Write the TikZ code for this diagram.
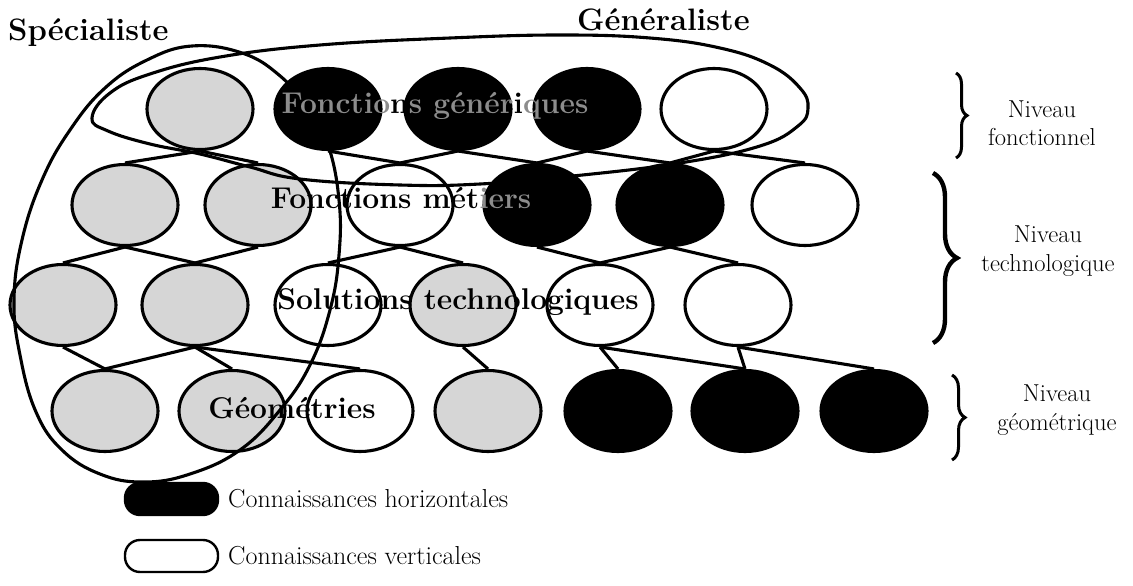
\documentclass[tikz,border=0pt]{standalone}
\usepackage{fontspec}
\usetikzlibrary{shapes.geometric,decorations.pathreplacing}
\begin{document}
\begin{tikzpicture}[x=1pt,y=-1pt,
  lw/.style={line width=3.1pt},
  kn/.style={ellipse, draw, line width=3.1pt, minimum width=106pt, minimum height=81pt, inner sep=0pt},
  gk/.style={kn, fill=black!16},
  bk/.style={kn, fill=black},
  wk/.style={kn, fill=white},
  conn/.style={line width=3.1pt},
  lvl/.style={font=\fontsize{30}{31}\selectfont\bfseries, inner sep=0pt},
  ttl/.style={font=\fontsize{31}{32}\selectfont\bfseries, inner sep=0pt},
  lab/.style={font=\fontsize{24.5}{28.5}\selectfont, align=center, inner sep=0pt},
  leg/.style={font=\fontsize{26}{30}\selectfont, inner sep=0pt, anchor=west},
  brc/.style={decorate, line width=3pt},
  pill/.style={draw, line width=2.4pt, rounded corners=15pt, minimum width=93pt, minimum height=32pt, inner sep=0pt}
]
\useasboundingbox (0,0) rectangle (1133,586);
\colorlet{onblack}{black!45}

% row 1
\node[gk] (g1) at (200,109) {};
\node[bk] (b1a) at (328,109) {};
\node[bk] (b1b) at (458,109) {};
\node[bk] (b1c) at (587,109) {};
\node[wk] (w1) at (714,109) {};
% row 2
\node[gk] (r2a) at (125,205) {};
\node[gk] (r2b) at (258,205) {};
\node[wk] (r2c) at (400,205) {};
\node[bk] (r2d) at (537,205) {};
\node[bk] (r2e) at (670,205) {};
\node[wk] (r2f) at (805,205) {};
% row 3
\node[gk] (r3a) at (63,305) {};
\node[gk] (r3b) at (195,305) {};
\node[wk] (r3c) at (328,305) {};
\node[gk] (r3d) at (463,305) {};
\node[wk] (r3e) at (600,305) {};
\node[wk] (r3f) at (738,305) {};
% row 4
\node[gk] (r4a) at (105,411) {};
\node[gk] (r4b) at (232,411) {};
\node[wk] (r4c) at (360,411) {};
\node[gk] (r4d) at (488,411) {};
\node[bk] (r4e) at (618,411) {};
\node[bk] (r4f) at (745,411) {};
\node[bk] (r4g) at (874,411) {};

% connectors row1-row2
\draw[conn] (g1.south) -- (r2a.north);
\draw[conn] (g1.south) -- (r2b.north);
\draw[conn] (b1a.south) -- (r2c.north);
\draw[conn] (b1b.south) -- (r2c.north);
\draw[conn] (b1b.south) -- (r2d.north);
\draw[conn] (b1c.south) -- (r2d.north);
\draw[conn] (b1c.south) -- (r2e.north);
\draw[conn] (w1.south) -- (r2e.north);
\draw[conn] (w1.south) -- (r2f.north);
% row2-row3
\draw[conn] (r2a.south) -- (r3a.north);
\draw[conn] (r2a.south) -- (r3b.north);
\draw[conn] (r2b.south) -- (r3b.north);
\draw[conn] (r2c.south) -- (r3c.north);
\draw[conn] (r2c.south) -- (r3d.north);
\draw[conn] (r2d.south) -- (r3e.north);
\draw[conn] (r2e.south) -- (r3e.north);
\draw[conn] (r2e.south) -- (r3f.north);
% row3-row4
\draw[conn] (r3a.south) -- (r4a.north);
\draw[conn] (r3b.south) -- (r4a.north);
\draw[conn] (r3b.south) -- (r4b.north);
\draw[conn] (r3b.south) -- (r4c.north);
\draw[conn] (r3d.south) -- (r4d.north);
\draw[conn] (r3e.south) -- (r4e.north);
\draw[conn] (r3e.south) -- (r4f.north);
\draw[conn] (r3f.south) -- (r4f.north);
\draw[conn] (r3f.south) -- (r4g.north);

% Spécialiste contour
\draw[lw] plot[smooth cycle, tension=0.7] coordinates {(192,46) (242,53) (279,75) (307,107) (328,145) (339,200) (339,255) (330,310) (310,365) (280,410) (240,450) (190,474) (143,482) (100,474) (62,450) (36,412) (20,355) (14,300) (22,240) (42,180) (70,130) (105,88) (147,60)};
% Généraliste contour
\draw[lw] plot[smooth cycle, tension=0.7] coordinates {(92,118) (110,93) (150,74) (220,57) (320,45) (450,38) (560,35) (650,38) (720,48) (770,65) (800,88) (808,108) (798,126) (760,146) (680,163) (573,176) (480,184) (400,185) (300,179) (250,167) (200,154) (150,144) (108,131)};

% level texts
\node[lvl] (tfg) at (435,106) {{\color{onblack}Fonctio}n{\color{onblack}s génér}i{\color{onblack}ques}};
\node[lvl] (tfm) at (401,198) {Fonctions mét{\color{onblack}iers}};
\node[lvl] (tst) at (458,302) {Solutions technologiques};
\node[lvl] (tgeo) at (292,408) {Géométries};

% titles
\node[ttl, anchor=base west] (tspec) at (8,41) {Spécialiste};
\node[ttl, anchor=base west] (tgen) at (577,31) {Généraliste};

% braces
\draw[brc, decoration={brace, amplitude=11pt}] (956,73) -- (956,158);
\draw[brc, line width=4.4pt, decoration={brace, amplitude=24pt}] (933,173) -- (933,343);
\draw[brc, decoration={brace, amplitude=13pt}] (952,375) -- (952,460);
\node[lab] (nf) at (1042,123) {Niveau\\fonctionnel};
\node[lab] (nt) at (1048,251) {Niveau\\technologique};
\node[lab] (ng) at (1057,410) {Niveau\\géométrique};

% legend
\node[pill, fill=black] (ph) at (171.5,499) {};
\node[leg] (lh) at (228,499) {Connaissances horizontales};
\node[pill, fill=white] (pv) at (171.5,556) {};
\node[leg] (lv) at (228,556) {Connaissances verticales};
\end{tikzpicture}
\end{document}
